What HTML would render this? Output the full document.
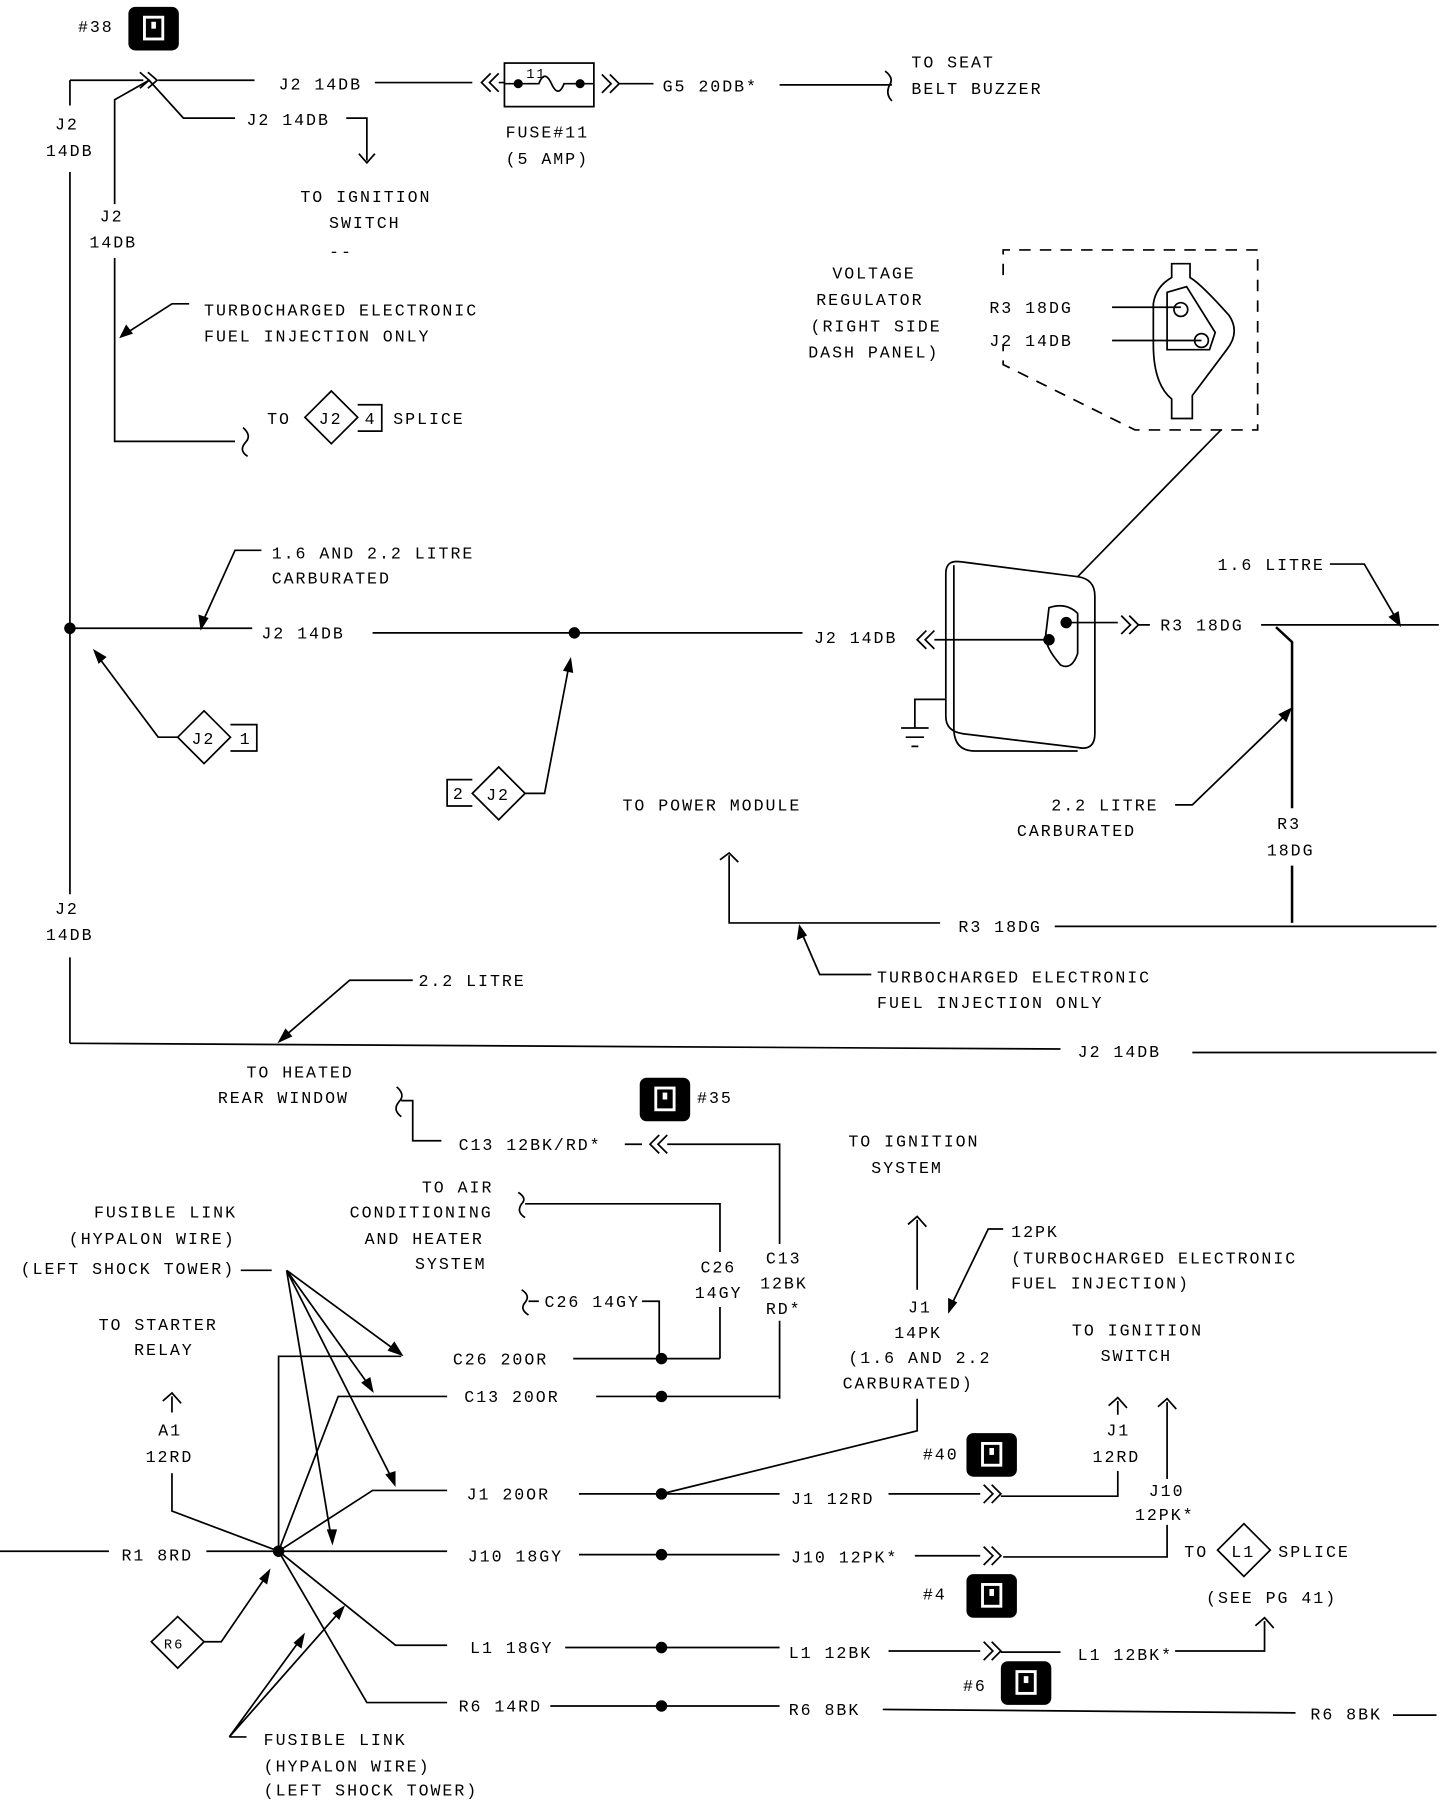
<!DOCTYPE html>
<html><head><meta charset="utf-8"><style>
html,body{margin:0;padding:0;background:#fff;}
svg{display:block}
text{font-family:"Liberation Mono",monospace;font-size:14.5px;letter-spacing:1.7px;fill:#000}
.l{stroke:#000;stroke-width:1.5;fill:none}
.t{stroke:#000;stroke-width:2.2;fill:none}
</style></head><body>
<svg width="1456" height="1800" viewBox="0 0 1270 1570" preserveAspectRatio="none" xmlns="http://www.w3.org/2000/svg">
<defs>
<g id="ic"><rect x="0" y="0" width="44" height="38" rx="6" fill="#000"/><rect x="14" y="9" width="16" height="19" fill="none" stroke="#fff" stroke-width="2.5"/><rect x="20" y="13" width="4" height="6" fill="#fff"/></g>
</defs>
<!-- TOP -->
<text x="68" y="28">#38</text><use href="#ic" x="112" y="6"/>
<path class="l" d="M61 70 H125 M61 70 V92 M61 150 V780 M61 835 V910"/>
<path class="l" d="M122 63 L130 70 L122 77 M129 63 L137 70 L129 77"/>
<path class="l" d="M138 70 H222 M327 72 H412"/>
<text x="243" y="78">J2 14DB</text>
<path class="l" d="M428 64 L420 72 L428 80 M435 64 L427 72 L435 80 M435 72 H440"/>
<rect class="l" x="440" y="55" width="78" height="38"/>
<circle cx="452" cy="73" r="4"/><circle cx="506" cy="73" r="4"/>
<path class="l" d="M440 73 H470 Q475 60 481 73 Q487 86 492 73 H518"/>
<text x="459" y="68" style="font-size:12px">11</text>
<path class="l" d="M525 65 L533 73 L525 81 M532 65 L540 73 L532 81 M540 73 H570"/>
<text x="578" y="80">G5 20DB*</text>
<path class="l" d="M680 74 H778 M772 62 Q780 68 776 74 Q772 82 778 88"/>
<text x="795" y="59">TO SEAT</text><text x="795" y="82">BELT BUZZER</text>
<text x="441" y="120">FUSE#11</text><text x="441" y="143">(5 AMP)</text>
<path class="l" d="M130 70 L160 103 H205 M302 103 H320 V140 M313 134 L320 142 L327 134"/>
<text x="215" y="109">J2 14DB</text>
<text x="262" y="176">TO IGNITION</text><text x="287" y="199">SWITCH</text><text x="287" y="224">--</text>
<text x="48" y="113">J2</text><text x="40" y="136">14DB</text>
<path class="l" d="M130 70 L100 87 V178 M100 225 V385 H205 M212 373 Q220 380 214 386 Q208 393 216 398"/>
<text x="87" y="193">J2</text><text x="78" y="216">14DB</text>
<path class="l" d="M165 265 H150 L108 292"/><path d="M104 295 L110 283 L116 291Z"/>
<text x="178" y="275">TURBOCHARGED ELECTRONIC</text><text x="178" y="298">FUEL INJECTION ONLY</text>
<text x="233" y="370">TO</text>
<path class="l" d="M289 341 L312 364 L289 387 L266 364Z"/><text x="278" y="370">J2</text>
<path class="l" d="M312 353 H333 V376 H312"/><text x="318" y="370">4</text>
<text x="343" y="370">SPLICE</text>
<!-- VOLTAGE REGULATOR -->
<text x="726" y="243">VOLTAGE</text><text x="712" y="266">REGULATOR</text><text x="707" y="289">(RIGHT SIDE</text><text x="705" y="312">DASH PANEL)</text>
<path class="l" stroke-dasharray="10 8" d="M875 240 V218 H1097 V375 H990 L875 318 V300"/>
<path class="l" d="M1022 230 H1038 V242 Q1048 248 1072 275 Q1082 290 1070 305 L1040 345 V365 H1022 V348 Q1006 335 1006 300 V265 Q1008 250 1022 242Z"/>
<path class="l" d="M1018 255 L1035 250 L1060 290 L1055 305 H1018Z"/>
<circle class="l" cx="1030" cy="270" r="6"/><circle class="l" cx="1048" cy="297" r="6"/>
<text x="863" y="273">R3 18DG</text><text x="863" y="302">J2 14DB</text>
<path class="l" d="M970 268 H1030 M970 297 H1048"/>
<path class="l" d="M1065 375 L940 503"/>
<path class="l" d="M825 500 Q825 488 838 490 L940 503 Q955 505 955 520 V640 Q955 655 940 652 L840 640 Q825 638 825 625Z"/>
<path class="l" d="M832 493 V635 Q832 655 850 655 H940"/>
<path class="l" d="M915 530 Q930 525 940 535 V570 Q935 585 925 580 Q912 565 912 555Z"/>
<circle cx="930" cy="543" r="5"/><circle cx="915" cy="558" r="5"/>
<path class="l" d="M915 558 H815 M808 550 L800 558 L808 566 M815 550 L807 558 L815 566"/>
<text x="710" y="561">J2 14DB</text>
<path class="l" d="M930 543 H975 M978 537 L986 545 L978 553 M985 537 L993 545 L985 553 M993 545 H1003"/>
<text x="1012" y="550">R3 18DG</text>
<path class="l" d="M1100 545 H1255"/><path class="t" d="M1113 547 L1127 560 V705 M1127 755 V805"/>
<text x="1062" y="497">1.6 LITRE</text>
<path class="l" d="M1160 492 H1190 L1218 540"/><path d="M1222 547 L1211 538 L1220 533Z"/>
<path class="l" d="M825 610 H798 V635 M786 635 H810 M790 643 H806 M795 651 H801"/>
<text x="917" y="707">2.2 LITRE</text><text x="887" y="729">CARBURATED</text>
<path class="l" d="M1025 702 H1040 L1123 622"/><path d="M1127 617 L1122 630 L1115 623Z"/>
<text x="1114" y="723">R3</text><text x="1105" y="746">18DG</text>
<text x="543" y="707">TO POWER MODULE</text>
<path class="l" d="M628 750 L636 744 L644 752 M636 746 V805 H820 M920 808 H1253"/>
<text x="836" y="813">R3 18DG</text>
<path class="l" d="M760 850 H715 L699 813"/><path d="M697 806 L695 820 L704 816Z"/>
<text x="765" y="857">TURBOCHARGED ELECTRONIC</text><text x="765" y="879">FUEL INJECTION ONLY</text>
<!-- MIDDLE -->
<circle cx="61" cy="548" r="5"/>
<path class="l" d="M61 548 H220 M325 552 H700"/><circle cx="501" cy="552" r="5"/>
<text x="228" y="557">J2 14DB</text>
<text x="237" y="487">1.6 AND 2.2 LITRE</text><text x="237" y="509">CARBURATED</text>
<path class="l" d="M228 480 H205 L177 542"/><path d="M175 550 L173 536 L182 539Z"/>
<path class="l" d="M155 643 H138 L85 572"/><path d="M81 566 L93 573 L86 579Z"/>
<path class="l" d="M178 620 L201 643 L178 666 L155 643Z"/><text x="167" y="649">J2</text>
<path class="l" d="M201 632 H224 V655 H201"/><text x="209" y="649">1</text>
<path class="l" d="M412 680 H390 V703 H412"/><text x="395" y="697">2</text>
<path class="l" d="M435 669 L458 692 L435 715 L412 692Z"/><text x="424" y="698">J2</text>
<path class="l" d="M458 692 H475 L496 582"/><path d="M498 573 L500 587 L491 585Z"/>
<text x="48" y="797">J2</text><text x="40" y="820">14DB</text>
<path class="l" d="M61 910 L925 915 M1040 918 H1253"/>
<text x="940" y="922">J2 14DB</text>
<text x="365" y="860">2.2 LITRE</text>
<path class="l" d="M360 855 H305 L247 905"/><path d="M242 910 L249 897 L255 904Z"/>
<!-- BOTTOM -->
<text x="215" y="940">TO HEATED</text><text x="190" y="962">REAR WINDOW</text>
<path class="l" d="M346 948 Q354 955 348 961 Q342 968 350 974 M350 960 H360 V995 H385"/>
<text x="400" y="1003">C13 12BK/RD*</text>
<path class="l" d="M545 998 H560 M575 990 L567 998 L575 1006 M582 990 L574 998 L582 1006 M582 998 H680 V1085 M680 1152 V1220"/>
<use href="#ic" x="558" y="940"/><text x="608" y="962">#35</text>
<text x="740" y="1000">TO IGNITION</text><text x="760" y="1023">SYSTEM</text>
<text x="368" y="1040">TO AIR</text><text x="305" y="1062">CONDITIONING</text><text x="318" y="1085">AND HEATER</text><text x="362" y="1107">SYSTEM</text>
<path class="l" d="M452 1040 Q460 1045 455 1050 Q450 1057 458 1062 M458 1050 H628 V1092 M628 1140 V1185"/>
<text x="611" y="1110">C26</text><text x="606" y="1132">14GY</text>
<text x="668" y="1102">C13</text><text x="663" y="1124">12BK</text><text x="668" y="1146">RD*</text>
<text x="475" y="1140">C26 14GY</text>
<path class="l" d="M455 1125 Q463 1130 458 1136 Q453 1142 461 1147 M461 1135 H470 M560 1135 H575 V1185"/>
<text x="82" y="1062">FUSIBLE LINK</text><text x="60" y="1085">(HYPALON WIRE)</text><text x="18" y="1111">(LEFT SHOCK TOWER)</text>
<path class="l" d="M210 1108 H237 M250 1108 L348 1180 M250 1108 L323 1210 M250 1108 L343 1292 M250 1108 L289 1342"/>
<path d="M352 1183 L338 1178 L344 1170Z M326 1215 L315 1206 L323 1201Z M345 1297 L336 1286 L345 1283Z M290 1348 L285 1334 L294 1334Z"/>
<text x="86" y="1160">TO STARTER</text><text x="117" y="1182">RELAY</text>
<path class="l" d="M142 1222 L150 1215 L158 1224 M150 1218 V1232"/>
<text x="138" y="1252">A1</text><text x="127" y="1275">12RD</text>
<path class="l" d="M150 1285 V1318 L243 1353"/>
<circle cx="243" cy="1353" r="5"/>
<text x="106" y="1361">R1 8RD</text>
<path class="l" d="M0 1353 H95 M180 1353 H243"/>
<path class="l" d="M243 1353 V1183 H350 M500 1185 H628"/><text x="395" y="1190">C26 20OR</text><circle cx="577" cy="1185" r="5"/>
<path class="l" d="M243 1353 L295 1218 H390 M520 1218 H680"/><text x="405" y="1223">C13 20OR</text><circle cx="577" cy="1218" r="5"/>
<path class="l" d="M243 1353 L325 1300 H390 M505 1303 H680"/><text x="407" y="1308">J1 20OR</text><circle cx="577" cy="1303" r="5"/>
<path class="l" d="M577 1303 L800 1248 V1220"/>
<path class="l" d="M792 1068 L800 1061 L808 1070 M800 1064 V1125"/>
<text x="792" y="1145">J1</text><text x="780" y="1167">14PK</text><text x="740" y="1189">(1.6 AND 2.2</text><text x="735" y="1211">CARBURATED)</text>
<text x="690" y="1312">J1 12RD</text>
<path class="l" d="M775 1303 H855 M858 1295 L866 1303 L858 1311 M865 1295 L873 1303 L865 1311 M873 1305 H975 V1283 M967 1226 L975 1219 L983 1228 M975 1222 V1234"/>
<text x="965" y="1252">J1</text><text x="953" y="1275">12RD</text>
<text x="882" y="1079">12PK</text><text x="882" y="1102">(TURBOCHARGED ELECTRONIC</text><text x="882" y="1124">FUEL INJECTION)</text>
<path class="l" d="M875 1072 H862 L830 1138"/><path d="M827 1146 L827 1132 L835 1136Z"/>
<text x="935" y="1165">TO IGNITION</text><text x="960" y="1187">SWITCH</text>
<path class="l" d="M1010 1227 L1018 1220 L1026 1229 M1018 1223 V1290 M1018 1330 V1358 H875"/>
<text x="1002" y="1305">J10</text><text x="990" y="1326">12PK*</text>
<path class="l" d="M243 1353 H390 M505 1356 H680"/><text x="408" y="1362">J10 18GY</text><circle cx="577" cy="1356" r="5"/>
<text x="690" y="1363">J10 12PK*</text>
<path class="l" d="M798 1357 H855 M858 1349 L866 1357 L858 1365 M865 1349 L873 1357 L865 1365"/>
<text x="1033" y="1358">TO</text>
<path class="l" d="M1085 1329 L1108 1352 L1085 1375 L1062 1352Z"/><text x="1074" y="1358">L1</text>
<text x="1115" y="1358">SPLICE</text><text x="1052" y="1398">(SEE PG 41)</text>
<path class="l" d="M1095 1418 L1103 1411 L1111 1420 M1103 1414 V1440 H1025"/>
<text x="940" y="1448">L1 12BK*</text>
<path class="l" d="M243 1353 L345 1435 H390 M493 1437 H680"/><text x="410" y="1442">L1 18GY</text><circle cx="577" cy="1437" r="5"/>
<text x="688" y="1446">L1 12BK</text>
<path class="l" d="M775 1440 H855 M858 1432 L866 1440 L858 1448 M865 1432 L873 1440 L865 1448 M873 1441 H925"/>
<path class="l" d="M243 1353 L320 1485 H390 M480 1488 H680"/><text x="400" y="1493">R6 14RD</text><circle cx="577" cy="1488" r="5"/>
<text x="688" y="1496">R6 8BK</text>
<path class="l" d="M770 1491 L1130 1494 M1215 1496 H1253"/><text x="1143" y="1500">R6 8BK</text>
<use href="#ic" x="843" y="1250"/><text x="805" y="1273">#40</text>
<use href="#ic" x="843" y="1373"/><text x="805" y="1395">#4</text>
<use href="#ic" x="873" y="1449"/><text x="840" y="1475">#6</text>
<path class="l" d="M155 1410 L178 1432 L155 1455 L132 1432Z"/><text x="143" y="1438" style="font-size:12px">R6</text>
<path class="l" d="M178 1432 H193 L232 1375"/><path d="M236 1368 L233 1382 L226 1377Z"/>
<path class="l" d="M200 1515 L262 1430 M200 1515 L297 1405 M200 1515 H215"/>
<path d="M266 1424 L263 1438 L256 1433Z M301 1400 L296 1413 L290 1407Z"/>
<text x="230" y="1522">FUSIBLE LINK</text><text x="230" y="1545">(HYPALON WIRE)</text><text x="230" y="1566">(LEFT SHOCK TOWER)</text>
</svg>
</body></html>
